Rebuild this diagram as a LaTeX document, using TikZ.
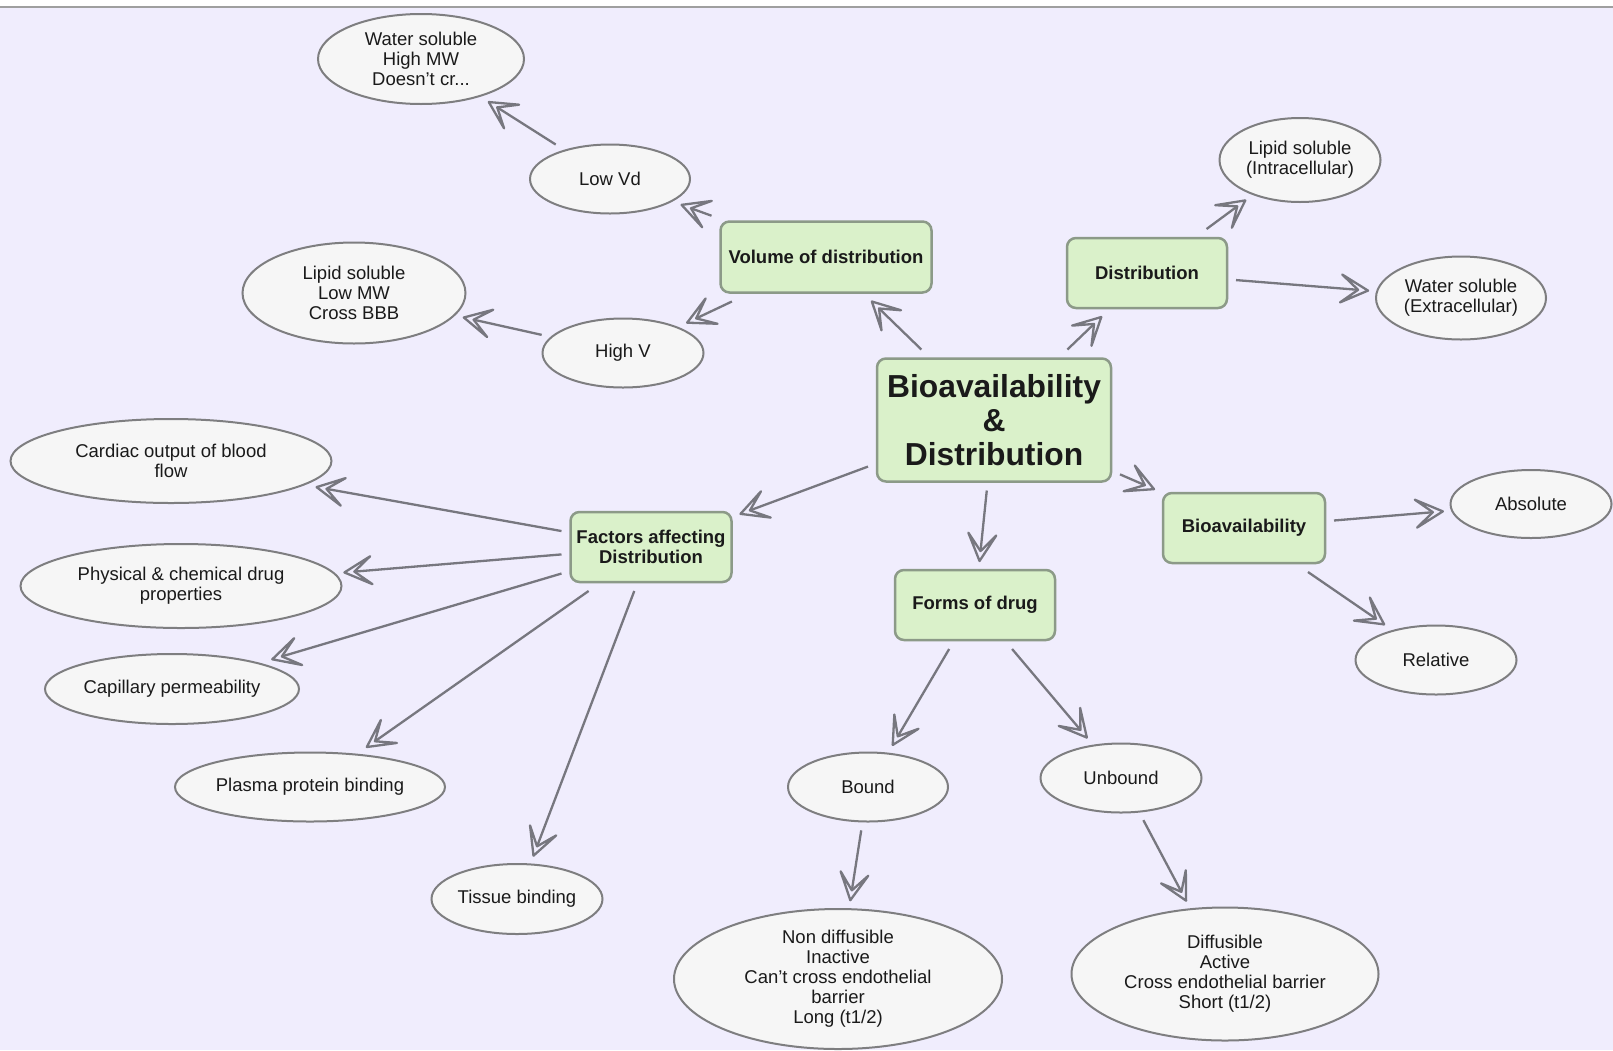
\documentclass[tikz,border=0pt]{standalone}
\usepackage{fontspec}
\setmainfont{Liberation Sans}
\usetikzlibrary{shapes.geometric,decorations.markings}
\definecolor{bgcol}{HTML}{F0EDFD}
\definecolor{ellfill}{HTML}{F6F6F6}
\definecolor{ellborder}{HTML}{7E7E80}
\definecolor{gfill}{HTML}{DAF1CA}
\definecolor{gborder}{HTML}{8C9A88}
\definecolor{arrcol}{HTML}{77777F}
\definecolor{txt}{HTML}{1A1A1A}
\begin{document}
\begin{tikzpicture}[x=1pt,y=-1pt,
  ell/.style={ellipse, draw=ellborder, fill=ellfill, line width=2pt, inner sep=-4pt, outer sep=9pt, align=center, text=txt, font=\fontsize{18.5}{20}\selectfont},
  gbox/.style={rectangle, rounded corners=9pt, draw=gborder, fill=gfill, line width=2.5pt, inner sep=0pt, outer sep=9pt, align=center, text=txt, font=\fontsize{18.5}{20}\selectfont\bfseries},
  chevron/.style={decoration={markings, mark=at position 1 with {\draw[arrcol, fill=bgcol, line width=2.3pt, line join=round] (0pt,0pt) -- (-27pt,14pt) -- (-10pt,0pt) -- (-27pt,-14pt) -- cycle;}}, postaction={decorate}},
  arr/.style={draw=arrcol, line width=2.3pt, chevron}]
\useasboundingbox (0,0) rectangle (1613,1050);
\fill[white] (0,0) rectangle (1613,1050);
\fill[bgcol] (0,7) rectangle (1613,1050);
\draw[gray!75, line width=1.5pt] (0,7) -- (1613,7);

% green boxes
\node[gbox, minimum width=234pt, minimum height=123pt, font=\fontsize{31.8}{34}\selectfont\bfseries] (c) at (994,420) {Bioavailability\\\&\\Distribution};
\node[gbox, minimum width=211pt, minimum height=71pt] (vod) at (826,257) {Volume of distribution};
\node[gbox, minimum width=160pt, minimum height=70pt] (dist) at (1147,273) {Distribution};
\node[gbox, minimum width=162pt, minimum height=70pt] (bio) at (1244,528) {Bioavailability};
\node[gbox, minimum width=160pt, minimum height=70pt] (forms) at (975,605) {Forms of drug};
\node[gbox, minimum width=161pt, minimum height=70pt] (fac) at (651,547) {Factors affecting\\Distribution};

% ellipses
\node[ell, minimum width=206pt, minimum height=90pt] (wsol) at (421,59) {Water soluble\\High MW\\Doesn’t cr...};
\node[ell, minimum width=160pt, minimum height=69pt] (lowvd) at (610,179) {Low Vd};
\node[ell, minimum width=223pt, minimum height=101pt] (lsol) at (354,293) {Lipid soluble\\Low MW\\Cross BBB};
\node[ell, minimum width=161pt, minimum height=69pt] (highv) at (623,353) {High V};
\node[ell, minimum width=161pt, minimum height=84pt] (lint) at (1300,160) {Lipid soluble\\(Intracellular)};
\node[ell, minimum width=170pt, minimum height=83pt] (wext) at (1461,298) {Water soluble\\(Extracellular)};
\node[ell, minimum width=161pt, minimum height=68pt] (abs) at (1531,504) {Absolute};
\node[ell, minimum width=161pt, minimum height=69pt] (rel) at (1436,660) {Relative};
\node[ell, minimum width=321pt, minimum height=84pt] (card) at (171,461) {Cardiac output of blood\\flow};
\node[ell, minimum width=321pt, minimum height=84pt] (phys) at (181,586) {Physical \& chemical drug\\properties};
\node[ell, minimum width=254pt, minimum height=70pt] (cap) at (172,689) {Capillary permeability};
\node[ell, minimum width=270pt, minimum height=69pt] (plas) at (310,787) {Plasma protein binding};
\node[ell, minimum width=171pt, minimum height=70pt] (tis) at (517,899) {Tissue binding};
\node[ell, minimum width=160pt, minimum height=69pt] (bound) at (868,787) {Bound};
\node[ell, minimum width=161pt, minimum height=69pt] (unb) at (1121,778) {Unbound};
\node[ell, minimum width=328pt, minimum height=140pt] (nond) at (838,979) {Non diffusible\\Inactive\\Can’t cross endothelial\\barrier\\Long (t1/2)};
\node[ell, minimum width=307pt, minimum height=133pt] (diff) at (1225,974) {Diffusible\\Active\\Cross endothelial barrier\\Short (t1/2)};

% connectors
\draw[arr] (c) -- (vod);
\draw[arr] (c) -- (dist);
\draw[arr] (c) -- (bio);
\draw[arr] (c) -- (forms);
\draw[arr] (c) -- (fac);
\draw[arr] (vod) -- (lowvd);
\draw[arr] (vod) -- (highv);
\draw[arr] (lowvd) -- (wsol);
\draw[arr] (highv) -- (lsol);
\draw[arr] (dist) -- (lint);
\draw[arr] (dist) -- (wext);
\draw[arr] (bio) -- (abs);
\draw[arr] (bio) -- (rel);
\draw[arr] (forms) -- (bound);
\draw[arr] (forms) -- (unb);
\draw[arr] (bound) -- (nond);
\draw[arr] (unb) -- (diff);
\draw[arr] (fac) -- (card);
\draw[arr] (fac) -- (phys);
\draw[arr] (fac) -- (cap);
\draw[arr] (fac) -- (plas);
\draw[arr] (fac) -- (tis);
\end{tikzpicture}
\end{document}
